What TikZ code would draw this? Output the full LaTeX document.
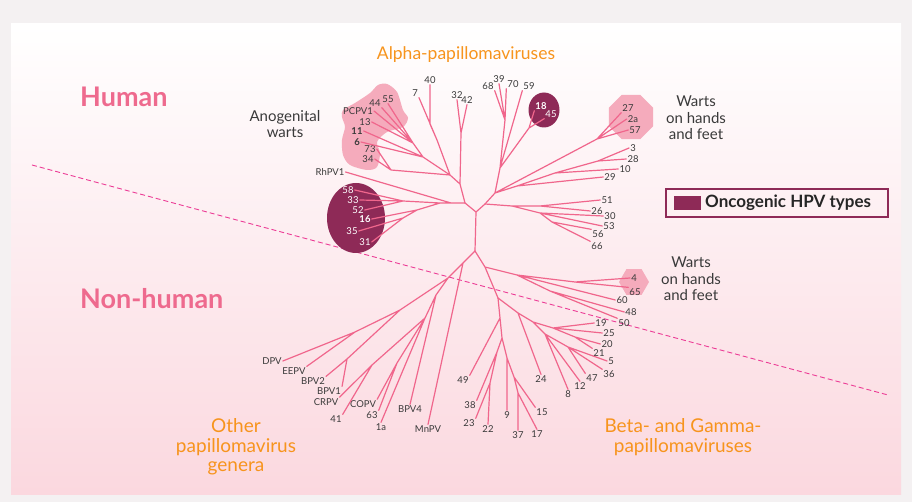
\documentclass[tikz,border=0pt]{standalone}
\usepackage{fontspec}
\setmainfont{Lato}
\usetikzlibrary{shapes.geometric}
\definecolor{pagegrey}{HTML}{F4F1F2}
\definecolor{panelpink}{HTML}{FBD8DF}
\definecolor{branchpink}{HTML}{F0668C}
\definecolor{oncored}{HTML}{8E2A57}
\definecolor{blobpink}{HTML}{F5ABBC}
\definecolor{genusorange}{HTML}{F7941D}
\definecolor{hostpink}{HTML}{EE6A8E}
\definecolor{dashmag}{HTML}{EC3C96}
\definecolor{inkgrey}{HTML}{3A3A3A}
\begin{document}
\begin{tikzpicture}[x=1pt,y=-1pt,
  branch/.style={draw=branchpink,line width=1.2pt,line cap=round,line join=round},
  leaf/.style={inner sep=1pt,text=inkgrey,font=\fontsize{9.5}{10}\selectfont},
  oncoleaf/.style={leaf,text=white},
  caption/.style={text=inkgrey,font=\fontsize{15}{16.5}\selectfont,align=center},
  genus/.style={text=genusorange,font=\fontsize{17.5}{18}\selectfont,align=center},
  biggenus/.style={genus,font=\fontsize{19}{19.5}\selectfont},
  hostlbl/.style={anchor=west,inner sep=0pt,text=hostpink,font=\fontsize{27}{28}\selectfont\bfseries}]
\useasboundingbox (0,0) rectangle (912,502);
\fill[pagegrey] (0,0) rectangle (912,502);
\shade[top color=white,bottom color=panelpink] (11,24) rectangle (901,494);

\coordinate (dl) at (32,165);
\coordinate (dr) at (888,395);
\draw[dashmag,line width=0.9pt,dash pattern=on 5pt off 3pt] (dl) -- (dr);

\fill[blobpink] plot[smooth cycle] coordinates {(387,84) (397,92) (403,110) (408,118) (403,127) (387,132) (377,142) (380,153) (377,167) (367,170) (350,165) (343,155) (342,140) (345,127) (342,117) (343,110) (355,103) (370,93) (378,85)};
\node[regular polygon,regular polygon sides=8,fill=blobpink,minimum size=48pt,inner sep=0pt] (grp27) at (631,117) {};
\node[regular polygon,regular polygon sides=6,fill=blobpink,minimum size=30pt,inner sep=0pt] (grp4) at (634,282) {};
\node[ellipse,fill=oncored,minimum width=58pt,minimum height=70pt,inner sep=0pt] (grp16) at (356,218) {};
\node[ellipse,fill=oncored,minimum width=31pt,minimum height=35pt,inner sep=0pt] (grp18) at (544,110) {};

\node[genus] (alpha) at (466,55) {Alpha-papillomaviruses};
\node[biggenus] (other) at (236,447) {Other\\papillomavirus\\genera};
\node[biggenus] (betagamma) at (683,437) {Beta- and Gamma-\\papillomaviruses};
\node[hostlbl] (human) at (80,97) {Human};
\node[hostlbl] (nonhuman) at (80,299) {Non-human};
\node[caption] (anowarts) at (285,124) {Anogenital\\warts};
\node[caption] (handwarts) at (696,118) {Warts\\on hands\\and feet};
\node[caption] (footwarts) at (691,279) {Warts\\on hands\\and feet};

\coordinate (top) at (476,212);
\coordinate (bot) at (475,251);
\coordinate (ul) at (465,203);
\coordinate (ur) at (485,204);
\coordinate (rh) at (451,203);
\coordinate (c16) at (440,203);
\coordinate (c16a) at (403,201);
\coordinate (c16b) at (417,210);
\coordinate (c16c) at (403,218);
\coordinate (up) at (460,184);
\coordinate (k32) at (461,133);
\coordinate (mid) at (450,175);
\coordinate (k40) at (437,140);
\coordinate (k40v) at (430,124);
\coordinate (ag) at (423,157);
\coordinate (ag1) at (413,143);
\coordinate (ag2) at (391,170);
\coordinate (ur2) at (495,193);
\coordinate (p) at (500,168);
\coordinate (q) at (505,120);
\coordinate (s) at (529,128);
\coordinate (w27) at (597,139);
\coordinate (x1) at (517,186);
\coordinate (x2) at (555,173);
\coordinate (x3) at (598,161);
\coordinate (z1) at (512,206);
\coordinate (z2) at (540,206);
\coordinate (z3) at (540,213);
\coordinate (z4) at (552,222);
\coordinate (bl) at (463,263);
\coordinate (br) at (485,267);
\coordinate (n2) at (448,278);
\coordinate (n3) at (400,310);
\coordinate (n4) at (355,332);
\coordinate (n5) at (347,359);
\coordinate (n6) at (436,295);
\coordinate (n7) at (425,318);
\coordinate (n8) at (397,363);
\coordinate (n9) at (372,365);
\coordinate (h1) at (517,275);
\coordinate (h2) at (575,282);
\coordinate (h3) at (550,291);
\coordinate (t1) at (498,298);
\coordinate (t2) at (518,313);
\coordinate (t3) at (533,322);
\coordinate (t4) at (553,328);
\coordinate (t5) at (575,337);
\coordinate (t6) at (545,334);
\coordinate (t7) at (568,347);
\coordinate (g1) at (500,318);
\coordinate (g2) at (502,338);
\coordinate (g3) at (497,352);
\coordinate (g4) at (490,383);
\coordinate (g5) at (507,358);
\coordinate (g6) at (514,377);
\coordinate (g7) at (518,393);

\node[oncoleaf] (l58) at (348,190) {58};
\node[oncoleaf] (l33) at (353,200) {33};
\node[oncoleaf] (l52) at (358,210) {52};
\node[oncoleaf] (l16) at (365,219) {\bfseries 16};
\node[oncoleaf] (l35) at (352,231) {35};
\node[oncoleaf] (l31) at (365,242) {31};
\node[oncoleaf] (l18) at (541,106) {\bfseries 18};
\node[oncoleaf] (l45) at (551,114) {45};
\node[leaf] (l40) at (430,80) {40};
\node[leaf] (l7) at (415,93) {7};
\node[leaf] (l32) at (457,95) {32};
\node[leaf] (l42) at (467,100) {42};
\node[leaf] (l55) at (388,99) {55};
\node[leaf] (l44) at (375,103) {44};
\node[leaf] (lPCPV) at (358,111) {PCPV1};
\node[leaf] (l13) at (365,122) {13};
\node[leaf] (l11) at (357,131) {\bfseries 11};
\node[leaf] (l6) at (357,142) {\bfseries 6};
\node[leaf] (l73) at (370,149) {73};
\node[leaf] (l34) at (368,159) {34};
\node[leaf] (lRh) at (330,172) {RhPV1};
\node[leaf] (l68) at (488,86) {68};
\node[leaf] (l39) at (499,79) {39};
\node[leaf] (l70) at (513,84) {70};
\node[leaf] (l59) at (529,86) {59};
\node[leaf] (l27) at (628,108) {27};
\node[leaf] (l2a) at (633,119) {2a};
\node[leaf] (l57) at (635,130) {57};
\node[leaf] (l3) at (633,148) {3};
\node[leaf] (l28) at (633,159) {28};
\node[leaf] (l10) at (625,169) {10};
\node[leaf] (l29) at (610,177) {29};
\node[leaf] (l51) at (607,200) {51};
\node[leaf] (l26) at (597,211) {26};
\node[leaf] (l30) at (610,216) {30};
\node[leaf] (l53) at (609,226) {53};
\node[leaf] (l56) at (598,234) {56};
\node[leaf] (l66) at (597,246) {66};
\node[leaf] (l4) at (634,278) {4};
\node[leaf] (l65) at (635,292) {65};
\node[leaf] (l60) at (622,300) {60};
\node[leaf] (l48) at (631,312) {48};
\node[leaf] (l50) at (624,323) {50};
\node[leaf] (l19) at (601,323) {19};
\node[leaf] (l25) at (609,333) {25};
\node[leaf] (l20) at (607,344) {20};
\node[leaf] (l21) at (599,353) {21};
\node[leaf] (l5) at (611,361) {5};
\node[leaf] (l36) at (609,374) {36};
\node[leaf] (l47) at (592,378) {47};
\node[leaf] (l12) at (580,386) {12};
\node[leaf] (l8) at (568,394) {8};
\node[leaf] (l24) at (541,379) {24};
\node[leaf] (l49) at (463,380) {49};
\node[leaf] (l38) at (470,405) {38};
\node[leaf] (l23) at (469,423) {23};
\node[leaf] (l22) at (488,429) {22};
\node[leaf] (l9) at (507,415) {9};
\node[leaf] (l37) at (518,435) {37};
\node[leaf] (l17) at (537,434) {17};
\node[leaf] (l15) at (542,412) {15};
\node[leaf] (lDPV) at (272,361) {DPV};
\node[leaf] (lEEPV) at (294,371) {EEPV};
\node[leaf] (lBPV2) at (313,381) {BPV2};
\node[leaf] (lBPV1) at (329,391) {BPV1};
\node[leaf] (lCRPV) at (326,402) {CRPV};
\node[leaf] (l41) at (336,419) {41};
\node[leaf] (lCOPV) at (363,404) {COPV};
\node[leaf] (l63) at (372,415) {63};
\node[leaf] (l1a) at (381,427) {1a};
\node[leaf] (lBPV4) at (410,409) {BPV4};
\node[leaf] (lMnPV) at (428,429) {MnPV};

\draw[branch] (top) -- (bot) (top) -- (ul) (top) -- (ur);
\draw[branch] (ul) -- (rh) -- (c16) (rh) -- (lRh.east)
  (c16) -- (c16a) (c16) -- (c16b) (c16b) -- (c16c)
  (c16a) -- (l58.east) (c16a) -- (l33.east) (c16a) -- (l52.east)
  (c16b) -- (l16.east) (c16c) -- (l35.east) (c16c) -- (l31.east);
\draw[branch] (ul) -- (up) -- (k32) (k32) -- (l32.south) (k32) -- (l42.south)
  (up) -- (mid) (mid) -- (k40) (k40) -- (k40v) -- (l40.south) (k40) -- (l7.south east)
  (mid) -- (ag) (ag) -- (ag1) (ag1) -- (l55.south) (ag1) -- (l44.south east)
  (ag1) -- (lPCPV.east) (ag1) -- (l13.east)
  (ag) -- (l11.east) (ag) -- (l6.east)
  (mid) -- (ag2) (ag2) -- (l73.east) (ag2) -- (l34.east);
\draw[branch] (ur) -- (ur2) (ur2) -- (p) (p) -- (q)
  (q) -- (l68.south east) (q) -- (l39.south) (q) -- (l70.south west)
  (p) -- (l59.south west) (p) -- (s) (s) -- (l18.south west) (s) -- (l45.south west)
  (ur2) -- (w27) (w27) -- (l27.south west) (w27) -- (l2a.west) (w27) -- (l57.west)
  (ur2) -- (x1) (x1) -- (l29.west) (x1) -- (x2) (x2) -- (l10.west)
  (x2) -- (x3) (x3) -- (l3.west) (x3) -- (l28.west);
\draw[branch] (ur) -- (z1) (z1) -- (z2) (z2) -- (l51.west) (z2) -- (l26.west)
  (z1) -- (z3) (z3) -- (l30.west) (z3) -- (l53.west)
  (z3) -- (z4) (z4) -- (l56.north west) (z4) -- (l66.north west);
\draw[branch] (bot) -- (bl) (bl) -- (lMnPV.north) (bl) -- (n2) (n2) -- (n3)
  (n3) -- (n4) (n4) -- (lDPV.east) (n4) -- (lEEPV.north east)
  (n3) -- (n5) (n5) -- (lBPV2.north east) (n5) -- (lBPV1.north east)
  (n2) -- (n6) (n6) -- (lBPV4.north) (n6) -- (n7)
  (n7) -- (n9) (n9) -- (lCRPV.north east) (n9) -- (l41.north east)
  (n7) -- (n8) (n8) -- (lCOPV.north east) (n8) -- (l63.north east) (n7) -- (l1a.north);
\draw[branch] (bot) -- (br) (br) -- (h1) (h1) -- (h2) (h2) -- (l4.west) (h2) -- (l65.north west)
  (h1) -- (l60.west) (h1) -- (h3) (h3) -- (l48.west) (h3) -- (l50.north west)
  (br) -- (t1) (t1) -- (t2) (t2) -- (l24.north) (t2) -- (t3)
  (t3) -- (t4) (t4) -- (l19.west) (t4) -- (l25.west) (t4) -- (t5) (t5) -- (l20.west) (t5) -- (l21.north west)
  (t3) -- (t6) (t6) -- (t7) (t7) -- (l5.west) (t7) -- (l36.north west) (t7) -- (l47.north west)
  (t6) -- (l12.north) (t6) -- (l8.north);
\draw[branch] (t1) -- (g1) (g1) -- (l49.north east) (g1) -- (g2)
  (g2) -- (g3) (g3) -- (l38.north east) (g3) -- (g4) (g4) -- (l23.north east) (g4) -- (l22.north)
  (g2) -- (g5) (g5) -- (l9.north) (g5) -- (g6) (g6) -- (l15.north west)
  (g6) -- (g7) (g7) -- (l37.north) (g7) -- (l17.north);

\node[draw=oncored,line width=1.5pt,minimum width=222pt,minimum height=28pt,inner sep=0pt] (legend) at (777,203) {};
\node[fill=oncored,minimum width=27pt,minimum height=14pt,inner sep=0pt] (legswatch) at (687,203) {};
\node[anchor=west,inner sep=0pt,text=black!85,font=\fontsize{17}{18}\selectfont\bfseries] (legtext) at (705,203) {Oncogenic HPV types};
\end{tikzpicture}
\end{document}
